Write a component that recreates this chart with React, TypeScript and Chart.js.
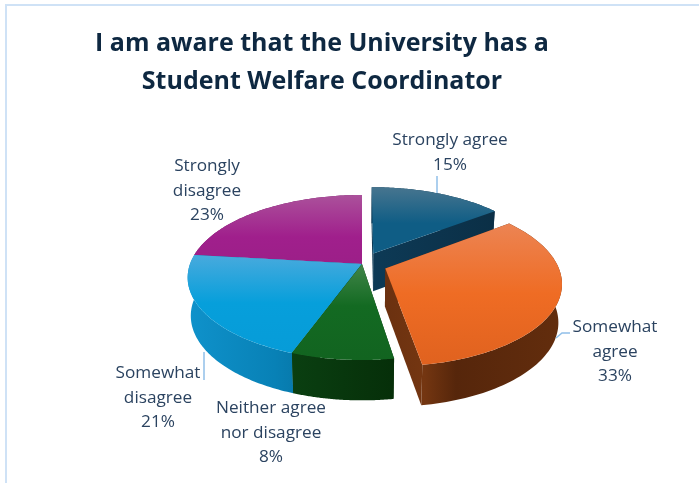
import React, { useEffect, useRef } from "react";
import { Chart, registerables } from "chart.js";

Chart.register(...registerables);

// ---- data ----
const categories = ["Strongly agree", "Somewhat agree", "Neither agree nor disagree", "Somewhat disagree", "Strongly disagree"];
const labelLines = [["Strongly agree"], ["Somewhat", "agree"], ["Neither agree", "nor disagree"], ["Somewhat", "disagree"], ["Strongly", "disagree"]];
const values = [14.7, 32.8, 8.1, 21.2, 23.2];
const titleLines = ["I am aware that the University has a", "Student Welfare Coordinator"];

// ---- styles ----
const topLight = ["#47758f", "#ec8453", "#418549", "#48aadd", "#ab519b"];
const topSolid = ["#0f5d85", "#ef6c24", "#136a22", "#069fdb", "#a01f8c"];
const topEnd = ["#0f5d85", "#e0621f", "#126420", "#069cd8", "#9c1f88"];
const gradLen = [36, 70, 42, 48, 42];
const wallStops = [
  [[0, "#0d3a56"], [1, "#0b2f46"]],
  [[0, "#6b3110"], [0.22, "#743611"], [0.4, "#56260b"], [1, "#632d0d"]],
  [[0, "#0a3f11"], [1, "#062f09"]],
  [[0, "#0f92cb"], [0.5, "#0881b6"], [1, "#05648d"]],
  [[0, "#6e1560"], [1, "#6e1560"]],
];
const explode = [0.15, 0.145, 0, 0, 0];
const drawOrder = [4, 3, 0, 2, 1];
const textColor = "#2b4360";
const titleColor = "#0e2841";
const leaderColor = "#90bfe9";
const labelFont = '400 17.2px "Open Sans"';
const labelCenters = [[450, 140], [615, 327], [271, 408], [158, 373], [207, 166]];
const leaders = [
  [[437, 176], [437, 193]],
  [[556, 338], [562, 333], [570, 333]],
  [],
  [[204, 352], [204, 380]],
  [],
];
const lineGap = 24.7;
const PERSP = 0.1636;
const TILT = 0.4669;
const CENTER_SHIFT = 40; // the pie sits right of the centred title
const RING_SHRINK = 0.982; // far (lower) ring is slightly narrower

const pie3d = {
  id: "pie3d",
  beforeDatasetDraw(chart: any) {
    const ctx = chart.ctx;
    const arcs = chart.getDatasetMeta(0).data;
    const total = values.reduce((a, b) => a + b, 0);

    drawOrder.forEach((i) => {
      const arc = arcs[i].getProps(["x", "y", "startAngle", "endAngle", "outerRadius"], true);
      const cx = arc.x + CENTER_SHIFT;
      const mid = (arc.startAngle + arc.endAngle) / 2;
      const du = Math.cos(mid) * explode[i];
      const dv = Math.sin(mid) * explode[i];
      const project = (u: number, v: number) => {
        const uu = u + du;
        const vv = v + dv;
        const s = 1 / (1 - PERSP * vv);
        const x = cx + arc.outerRadius * uu * s;
        const y = arc.y + arc.outerRadius * TILT * vv * s;
        return { x, y, bx: cx + (x - cx) * RING_SHRINK, by: y + 26 + 12 * s };
      };
      const apex = project(0, 0);
      const rim: any[] = [];
      const steps = 80;
      for (let k = 0; k <= steps; k++) {
        const t = arc.startAngle + ((arc.endAngle - arc.startAngle) * k) / steps;
        rim.push(project(Math.cos(t), Math.sin(t)));
      }
      const xs = rim.map((p) => p.x).concat(apex.x);
      const ys = rim.map((p) => p.y).concat(apex.y);
      const wall = ctx.createLinearGradient(Math.min(...xs), 0, Math.max(...xs), 0);
      wallStops[i].forEach(([o, c]: any) => wall.addColorStop(o, c));
      ctx.fillStyle = wall;

      const quad = (a: any, b: any) => {
        ctx.beginPath();
        ctx.moveTo(a.x, a.y);
        ctx.lineTo(b.x, b.y);
        ctx.lineTo(b.bx, b.by);
        ctx.lineTo(a.bx, a.by);
        ctx.closePath();
        ctx.fill();
      };
      quad(apex, rim[0]);
      quad(apex, rim[steps]);
      ctx.beginPath();
      rim.forEach((p, k) => (k ? ctx.lineTo(p.x, p.y) : ctx.moveTo(p.x, p.y)));
      for (let k = steps; k >= 0; k--) ctx.lineTo(rim[k].bx, rim[k].by);
      ctx.closePath();
      ctx.fill();

      const yTop = Math.min(...ys);
      const yBot = Math.max(...ys);
      const grad = ctx.createLinearGradient(0, yTop, 0, yBot);
      const f = Math.min(1, gradLen[i] / (yBot - yTop));
      grad.addColorStop(0, topLight[i]);
      grad.addColorStop(f, topSolid[i]);
      grad.addColorStop(1, topEnd[i]);
      ctx.fillStyle = grad;
      ctx.beginPath();
      ctx.moveTo(apex.x, apex.y);
      rim.forEach((p) => ctx.lineTo(p.x, p.y));
      ctx.closePath();
      ctx.fill();
    });

    // leader lines
    ctx.save();
    ctx.strokeStyle = leaderColor;
    ctx.lineWidth = 1.5;
    leaders.forEach((pts) => {
      if (!pts.length) return;
      ctx.beginPath();
      pts.forEach(([x, y], k) => (k ? ctx.lineTo(x, y) : ctx.moveTo(x, y)));
      ctx.stroke();
    });
    ctx.restore();

    // data labels
    ctx.save();
    ctx.font = labelFont;
    ctx.fillStyle = textColor;
    ctx.textAlign = "center";
    ctx.textBaseline = "middle";
    labelLines.forEach((lines, i) => {
      const [x, y] = labelCenters[i];
      const all = [...lines, `${Math.round((values[i] / total) * 100)}%`];
      all.forEach((line, k) => ctx.fillText(line, x, y + k * lineGap));
    });
    ctx.restore();
    return false;
  },
};

export default function App() {
  const ref = useRef<HTMLCanvasElement>(null);
  useEffect(() => {
    document.body.style.margin = "0";
    const chart = new Chart(ref.current as HTMLCanvasElement, {
      type: "pie",
      data: {
        labels: categories,
        datasets: [{ data: values, backgroundColor: topSolid, borderWidth: 0 }],
      },
      options: {
        animation: false,
        responsive: false,
        layout: { padding: { left: 0, right: 55, top: 0, bottom: 47 } },
        plugins: {
          legend: { display: false },
          tooltip: { enabled: false },
          title: {
            display: true,
            text: titleLines,
            color: titleColor,
            font: { family: '"Open Sans"', size: 25, weight: "bold", lineHeight: 1.52 },
            padding: { top: 25, bottom: -9 },
          },
        },
      },
      plugins: [pie3d],
    } as any);
    return () => chart.destroy();
  }, []);
  return (
    <div style={{ position: "relative", width: 699, height: 483, overflow: "hidden", background: "#fff" }}>
      <div style={{ position: "absolute", left: 5, top: 4, right: -4, bottom: -4, border: "2px solid #cfe2f6" }} />
      <canvas ref={ref} width={699} height={483} style={{ position: "absolute", left: 0, top: 0, width: 699, height: 483 }} />
    </div>
  );
}
